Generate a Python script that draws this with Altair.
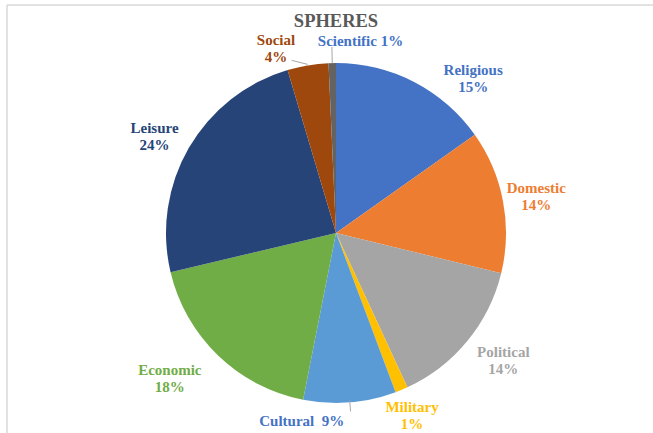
import altair as alt
import pandas as pd

# ---- data ----
categories = ["Religious", "Domestic", "Political", "Military", "Cultural",
              "Economic", "Leisure", "Social", "Scientific"]
values = [15.2, 13.6, 14.3, 1.2, 8.8, 18.2, 24.1, 3.9, 0.7]
pct_labels = ["15%", "14%", "14%", "1%", "9%", "18%", "24%", "4%", "1%"]

slice_colors = ["#4472C4", "#ED7D31", "#A5A5A5", "#FFC000", "#5B9BD5",
                "#70AD47", "#264478", "#9E480E", "#636363"]
label_colors = ["#4472C4", "#ED7D31", "#A5A5A5", "#FFC000", "#4472C4",
                "#70AD47", "#264478", "#9E480E", "#4472C4"]

df = pd.DataFrame({"cat": categories, "value": values, "pct": pct_labels,
                   "order": list(range(len(categories)))})

# ---- layout (style, not data) ----
W, H = 653, 433
CX, CY, R = 336, 233, 170
LABEL_R = 205
FONT = "Liberation Serif"
single_line = {"Cultural": "\u00a0\u00a0", "Scientific": " "}
label_shift = {
    "Religious": (43, 19), "Domestic": (-1, -7), "Political": (9, -11),
    "Military": (-3, -15), "Cultural": (-51, -16), "Economic": (-24, -11),
    "Leisure": (-4, -2), "Social": (-26, 9), "Scientific": (29, 13),
}

base = alt.Chart(df)

pie = base.mark_arc(outerRadius=R).encode(
    theta=alt.Theta("value:Q", stack=True),
    order=alt.Order("order:Q"),
    color=alt.Color("cat:N", scale=alt.Scale(domain=categories, range=slice_colors),
                    legend=None),
    x=alt.value(CX), y=alt.value(CY),
)

def with_mid(chart):
    return chart.transform_window(
        cum="sum(value)", sort=[alt.SortField("order")],
        frame=[None, 0]
    ).transform_calculate(mid="datum.cum - datum.value / 2")

label_layers = []
for i, cat in enumerate(categories):
    if cat in single_line:
        expr = f"datum.cat + '{single_line[cat]}' + datum.pct"
    else:
        expr = "[datum.cat, datum.pct]"
    dx, dy = label_shift[cat]
    layer = with_mid(base).transform_filter(
        alt.datum.cat == cat
    ).transform_calculate(label=expr).mark_text(
        radius=LABEL_R, dx=dx, dy=dy, font=FONT, fontWeight="bold",
        fontSize=15, lineHeight=17, align="center", baseline="middle",
        color=label_colors[i],
    ).encode(
        theta=alt.Theta("mid:Q", stack=None),
        text=alt.Text("label:N"),
        x=alt.value(CX), y=alt.value(CY),
    )
    label_layers.append(layer)

# leader lines computed from each slice's mid angle
def leader(cat, r1, r2, ex=None):
    ch = with_mid(base).transform_filter(alt.datum.cat == cat).transform_calculate(
        a="datum.mid / 100 * 2 * PI"
    ).transform_calculate(
        lx1=f"{CX} + {r1} * sin(datum.a)",
        ly1=f"{CY} - {r1} * cos(datum.a)",
    )
    if ex is None:
        ch = ch.transform_calculate(
            lx2=f"{CX} + {r2} * sin(datum.a)",
            ly2=f"{CY} - {r2} * cos(datum.a)",
        )
    else:
        ch = ch.transform_calculate(
            lx2=f"datum.lx1 + {ex[0]}", ly2=f"datum.ly1 + {ex[1]}"
        )
    return ch.mark_rule(color="#A6A6A6", strokeWidth=1).encode(
        x=alt.X("lx1:Q", scale=None), y=alt.Y("ly1:Q", scale=None),
        x2="lx2:Q", y2="ly2:Q",
    )

leaders = [
    leader("Scientific", 170, 186),
    leader("Cultural", 168, 179),
    leader("Social", 171, None, ex=(-16, -4)),
]

title = base.mark_text(text="SPHERES", font=FONT, fontWeight="bold", fontSize=18.5,
                       color="#595959", align="center", baseline="middle").encode(
    x=alt.value(CX), y=alt.value(21)
).transform_filter(alt.datum.order == 0)

frame_top = base.mark_rule(color="#D9D9D9", strokeWidth=1.5).encode(
    x=alt.value(7), x2=alt.value(W), y=alt.value(5), y2=alt.value(5)
).transform_filter(alt.datum.order == 0)
frame_left = base.mark_rule(color="#D9D9D9", strokeWidth=1.5).encode(
    x=alt.value(7), x2=alt.value(7), y=alt.value(5), y2=alt.value(H)
).transform_filter(alt.datum.order == 0)

chart = alt.layer(frame_top, frame_left, pie, *leaders, *label_layers, title).properties(
    width=W, height=H, padding=0, autosize=alt.AutoSizeParams(type="none"),
    background="white",
).configure_view(stroke=None)

chart.save("out.html", embed_options={"renderer": "svg", "actions": False})
